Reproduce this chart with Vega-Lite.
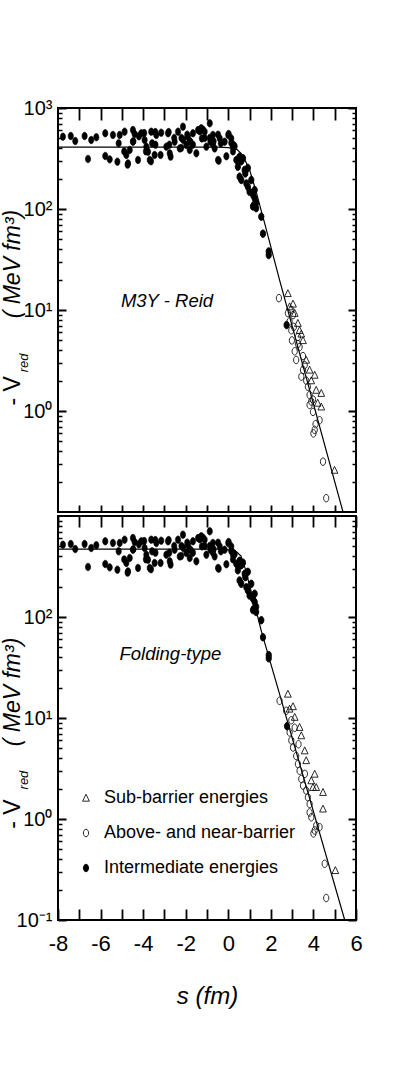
{
  "$schema": "https://vega.github.io/schema/vega-lite/v6.json",
  "background": "white",
  "padding": {"left": 0, "top": 97, "right": 5, "bottom": 5},
  "config": {
    "view": {"stroke": "black", "strokeWidth": 2},
    "axis": {"labelColor": "black", "domain": false, "ticks": false, "tickSize": 0, "gridColor": "black", "gridOpacity": 1}
  },
  "datasets": {
    "top_line": [{"s":-8,"v":410},{"s":-0.5,"v":410},{"s":0,"v":405},{"s":0.4,"v":390},{"s":0.6,"v":355},{"s":0.8,"v":300},{"s":1.0,"v":245},{"s":1.3,"v":150},{"s":1.71,"v":72},{"s":2.41,"v":19.8},{"s":5.39,"v":0.1}],
    "bot_line": [{"s":-8,"v":470},{"s":-0.5,"v":470},{"s":0,"v":462},{"s":0.4,"v":440},{"s":0.6,"v":400},{"s":0.8,"v":300},{"s":1.0,"v":205},{"s":1.3,"v":118},{"s":1.55,"v":73},{"s":2.4,"v":17.5},{"s":5.47,"v":0.1}],
    "plateau": [{"s":-7.77,"v":520},{"s":-7.4,"v":528},{"s":-7.19,"v":471},{"s":-6.75,"v":528},{"s":-6.59,"v":313},{"s":-6.44,"v":482},{"s":-6.2,"v":513},{"s":-5.78,"v":562},{"s":-5.78,"v":335},{"s":-5.57,"v":310},{"s":-5.42,"v":541},{"s":-5.21,"v":294},{"s":-5.15,"v":447},{"s":-5.1,"v":541},{"s":-4.87,"v":583},{"s":-4.89,"v":372},{"s":-4.79,"v":343},{"s":-4.71,"v":283},{"s":-4.73,"v":275},{"s":-4.63,"v":384},{"s":-4.48,"v":605},{"s":-4.48,"v":464},{"s":-4.46,"v":468},{"s":-4.4,"v":553},{"s":-4.24,"v":306},{"s":-4.2,"v":525},{"s":-4.09,"v":562},{"s":-3.95,"v":565},{"s":-3.93,"v":482},{"s":-3.87,"v":372},{"s":-3.85,"v":414},{"s":-3.77,"v":369},{"s":-3.69,"v":306},{"s":-3.63,"v":297},{"s":-3.62,"v":583},{"s":-3.58,"v":447},{"s":-3.46,"v":343},{"s":-3.43,"v":578},{"s":-3.42,"v":433},{"s":-3.38,"v":541},{"s":-3.18,"v":343},{"s":-3.15,"v":570},{"s":-2.91,"v":414},{"s":-2.83,"v":562},{"s":-2.8,"v":578},{"s":-2.77,"v":433},{"s":-2.75,"v":356},{"s":-2.71,"v":330},{"s":-2.54,"v":505},{"s":-2.52,"v":464},{"s":-2.36,"v":583},{"s":-2.28,"v":398},{"s":-2.21,"v":402},{"s":-2.2,"v":505},{"s":-2.13,"v":653},{"s":-2.11,"v":482},{"s":-1.97,"v":431},{"s":-1.93,"v":545},{"s":-1.89,"v":520},{"s":-1.81,"v":384},{"s":-1.81,"v":468},{"s":-1.78,"v":464},{"s":-1.66,"v":562},{"s":-1.66,"v":433},{"s":-1.5,"v":356},{"s":-1.42,"v":605},{"s":-1.34,"v":588},{"s":-1.27,"v":630},{"s":-1.24,"v":500},{"s":-1.19,"v":610},{"s":-1.11,"v":583},{"s":-1.11,"v":505},{"s":-1.03,"v":414},{"s":-0.87,"v":705},{"s":-0.87,"v":505},{"s":-0.84,"v":464},{"s":-0.72,"v":541},{"s":-0.72,"v":433},{"s":-0.69,"v":468},{"s":-0.64,"v":398},{"s":-0.48,"v":306},{"s":-0.48,"v":545},{"s":-0.45,"v":301},{"s":-0.4,"v":500},{"s":-0.35,"v":447},{"s":-0.17,"v":464},{"s":-0.09,"v":333},{"s":0.0,"v":541},{"s":0.02,"v":553},{"s":0.14,"v":500},{"s":0.14,"v":450},{"s":0.22,"v":414},{"s":0.22,"v":372},{"s":0.25,"v":431},{"s":0.3,"v":417}],
    "top_rest": [
      {"s":0.38,"v":306,"t":"I"},{"s":0.45,"v":262,"t":"I"},{"s":0.53,"v":330,"t":"I"},{"s":0.53,"v":209,"t":"I"},{"s":0.61,"v":194,"t":"I"},{"s":0.61,"v":297,"t":"I"},{"s":0.69,"v":318,"t":"I"},{"s":0.77,"v":243,"t":"I"},{"s":0.8,"v":225,"t":"I"},{"s":0.85,"v":179,"t":"I"},{"s":0.92,"v":166,"t":"I"},{"s":0.92,"v":255,"t":"I"},{"s":1.0,"v":148,"t":"I"},{"s":1.08,"v":194,"t":"I"},{"s":1.16,"v":138,"t":"I"},{"s":1.16,"v":106,"t":"I"},{"s":1.21,"v":110,"t":"I"},{"s":1.24,"v":128,"t":"I"},{"s":1.24,"v":154,"t":"I"},{"s":1.31,"v":102,"t":"I"},{"s":1.31,"v":115,"t":"I"},{"s":1.55,"v":84,"t":"I"},{"s":1.63,"v":57,"t":"I"},{"s":1.9,"v":38,"t":"I"},{"s":1.9,"v":35,"t":"I"},{"s":2.74,"v":7.1,"t":"I"},
      {"s":2.38,"v":13.1,"t":"A"},{"s":2.8,"v":9.3,"t":"A"},{"s":2.96,"v":10.0,"t":"A"},{"s":2.88,"v":7.7,"t":"A"},{"s":3.04,"v":8.9,"t":"A"},{"s":2.96,"v":6.3,"t":"A"},{"s":3.08,"v":6.8,"t":"A"},{"s":2.99,"v":5.0,"t":"A"},{"s":3.27,"v":5.4,"t":"A"},{"s":3.35,"v":4.3,"t":"A"},{"s":3.12,"v":3.9,"t":"A"},{"s":3.27,"v":4.6,"t":"A"},{"s":3.19,"v":3.2,"t":"A"},{"s":3.59,"v":2.85,"t":"A"},{"s":3.51,"v":2.55,"t":"A"},{"s":3.51,"v":3.5,"t":"A"},{"s":3.43,"v":2.19,"t":"A"},{"s":3.66,"v":2.0,"t":"A"},{"s":3.74,"v":1.74,"t":"A"},{"s":3.82,"v":1.44,"t":"A"},{"s":3.9,"v":1.24,"t":"A"},{"s":3.82,"v":1.15,"t":"A"},{"s":3.98,"v":1.3,"t":"A"},{"s":3.98,"v":0.98,"t":"A"},{"s":4.1,"v":0.74,"t":"A"},{"s":4.06,"v":0.65,"t":"A"},{"s":4.0,"v":0.6,"t":"A"},{"s":4.29,"v":0.81,"t":"A"},{"s":4.45,"v":0.315,"t":"A"},{"s":4.6,"v":0.137,"t":"A"},
      {"s":2.8,"v":14.6,"t":"S"},{"s":2.88,"v":10.8,"t":"S"},{"s":3.04,"v":11.5,"t":"S"},{"s":3.12,"v":9.3,"t":"S"},{"s":3.27,"v":7.4,"t":"S"},{"s":3.35,"v":6.3,"t":"S"},{"s":3.43,"v":5.8,"t":"S"},{"s":3.51,"v":5.0,"t":"S"},{"s":3.66,"v":3.2,"t":"S"},{"s":3.82,"v":2.55,"t":"S"},{"s":3.9,"v":2.0,"t":"S"},{"s":4.06,"v":2.27,"t":"S"},{"s":4.13,"v":1.61,"t":"S"},{"s":4.37,"v":1.5,"t":"S"},{"s":4.37,"v":1.1,"t":"S"},{"s":4.2,"v":1.2,"t":"S"},{"s":4.99,"v":0.26,"t":"S"}],
    "bot_rest": [
      {"s":0.38,"v":335,"t":"I"},{"s":0.45,"v":290,"t":"I"},{"s":0.53,"v":360,"t":"I"},{"s":0.53,"v":230,"t":"I"},{"s":0.61,"v":213,"t":"I"},{"s":0.61,"v":326,"t":"I"},{"s":0.69,"v":345,"t":"I"},{"s":0.77,"v":268,"t":"I"},{"s":0.8,"v":248,"t":"I"},{"s":0.85,"v":197,"t":"I"},{"s":0.92,"v":183,"t":"I"},{"s":0.92,"v":280,"t":"I"},{"s":1.0,"v":163,"t":"I"},{"s":1.08,"v":213,"t":"I"},{"s":1.16,"v":152,"t":"I"},{"s":1.16,"v":117,"t":"I"},{"s":1.21,"v":121,"t":"I"},{"s":1.24,"v":141,"t":"I"},{"s":1.24,"v":170,"t":"I"},{"s":1.31,"v":112,"t":"I"},{"s":1.31,"v":126,"t":"I"},{"s":1.55,"v":93,"t":"I"},{"s":1.63,"v":63,"t":"I"},{"s":1.9,"v":42,"t":"I"},{"s":1.9,"v":39,"t":"I"},{"s":2.76,"v":8.3,"t":"I"},
      {"s":2.41,"v":14.8,"t":"A"},{"s":2.72,"v":11.8,"t":"A"},{"s":2.96,"v":9.5,"t":"A"},{"s":3.12,"v":8.0,"t":"A"},{"s":2.88,"v":7.2,"t":"A"},{"s":2.96,"v":6.0,"t":"A"},{"s":3.04,"v":5.1,"t":"A"},{"s":3.3,"v":5.5,"t":"A"},{"s":3.19,"v":4.2,"t":"A"},{"s":3.27,"v":3.5,"t":"A"},{"s":3.35,"v":3.0,"t":"A"},{"s":3.6,"v":2.8,"t":"A"},{"s":3.43,"v":2.49,"t":"A"},{"s":3.51,"v":2.14,"t":"A"},{"s":3.66,"v":1.91,"t":"A"},{"s":3.74,"v":1.64,"t":"A"},{"s":3.82,"v":1.41,"t":"A"},{"s":3.82,"v":1.16,"t":"A"},{"s":3.9,"v":1.04,"t":"A"},{"s":4.06,"v":0.77,"t":"A"},{"s":4.0,"v":0.72,"t":"A"},{"s":4.13,"v":0.86,"t":"A"},{"s":4.29,"v":0.83,"t":"A"},{"s":4.53,"v":0.36,"t":"A"},{"s":4.6,"v":0.165,"t":"A"},
      {"s":2.8,"v":17.3,"t":"S"},{"s":2.88,"v":12.3,"t":"S"},{"s":3.04,"v":13.0,"t":"S"},{"s":3.12,"v":10.2,"t":"S"},{"s":3.35,"v":8.1,"t":"S"},{"s":3.43,"v":6.7,"t":"S"},{"s":3.59,"v":4.75,"t":"S"},{"s":3.66,"v":3.8,"t":"S"},{"s":3.9,"v":2.4,"t":"S"},{"s":4.06,"v":2.79,"t":"S"},{"s":3.98,"v":2.06,"t":"S"},{"s":4.13,"v":2.06,"t":"S"},{"s":4.45,"v":1.84,"t":"S"},{"s":4.45,"v":1.26,"t":"S"},{"s":5.03,"v":0.31,"t":"S"}]
  },
  "vconcat": [
    {
      "width": 298, "height": 404,
      "layer": [
        {"data": {"name": "top_line"}, "mark": {"type": "line", "color": "black", "strokeWidth": 1.2},
         "encoding": {
           "x": {"field": "s", "type": "quantitative", "scale": {"domain": [-8, 6], "nice": false, "zero": false},
                 "axis": {"orient": "bottom", "values": [-7,-6,-5,-4,-3,-2,-1,0,1,2,3,4,5], "labels": false, "title": null,
                          "grid": true, "gridWidth": 1.8, "gridDash": [12, 385, 7, 100], "minExtent": 0, "maxExtent": 0}},
           "y": {"field": "v", "type": "quantitative", "scale": {"type": "log", "domain": [0.1, 1000], "nice": false},
                 "axis": {"orient": "left", "values": [1,10,100,1000], "title": null, "grid": true, "gridWidth": 1.8, "gridDash": [8, 282, 8, 100],
                          "labelExpr": "datum.value >= 999 ? '10³' : datum.value >= 99 ? '10²' : datum.value >= 9 ? '10¹' : '10⁰'",
                          "labelFont": "Liberation Sans Narrow, Liberation Sans, Arial, sans-serif", "labelFontSize": 20, "labelPadding": 6, "labelOverlap": false}}
         }},
        {"data": {"name": "plateau"}, "mark": {"type": "point", "shape": "M0,-1A0.7,1,0,1,1,0,1A0.7,1,0,1,1,0,-1Z", "filled": true, "fill": "black", "stroke": "black", "strokeWidth": 0.6, "size": 56, "opacity": 1},
         "encoding": {
           "x": {"field": "s", "type": "quantitative", "scale": {"domain": [-8, 6], "nice": false, "zero": false}, "axis": null},
           "y": {"field": "v", "type": "quantitative", "scale": {"type": "log", "domain": [0.1, 1000], "nice": false}, "axis": null}
         }},
        {"data": {"name": "top_rest"}, "mark": {"type": "point", "filled": true, "strokeWidth": 0.9, "size": 56, "opacity": 1},
         "encoding": {
           "x": {"field": "s", "type": "quantitative", "scale": {"domain": [-8, 6], "nice": false, "zero": false}, "axis": null},
           "y": {"field": "v", "type": "quantitative", "scale": {"type": "log", "domain": [0.1, 1000], "nice": false},
                 "axis": {"orient": "left", "values": [0.2,0.3,0.4,0.5,0.6,0.7,0.8,0.9,2,3,4,5,6,7,8,9,20,30,40,50,60,70,80,90,200,300,400,500,600,700,800,900], "labels": false, "title": null,
                          "grid": true, "gridWidth": 1.4, "gridDash": [4, 290, 4, 100], "minExtent": 0, "maxExtent": 0}},
           "shape": {"field": "t", "type": "nominal", "scale": {"domain": ["S","A","I"], "range": ["M0,-1L0.9,0.85L-0.9,0.85Z", "M0,-1A0.7,1,0,1,1,0,1A0.7,1,0,1,1,0,-1Z", "M0,-1A0.7,1,0,1,1,0,1A0.7,1,0,1,1,0,-1Z"]}, "legend": null},
           "fill": {"field": "t", "type": "nominal", "scale": {"domain": ["S","A","I"], "range": ["transparent", "transparent", "black"]}, "legend": null},
           "stroke": {"field": "t", "type": "nominal", "scale": {"domain": ["S","A","I"], "range": ["#111", "#111", "black"]}, "legend": null}
         }},
        {"data": {"values": [{}]}, "mark": {"type": "text", "text": "M3Y - Reid", "font": "Liberation Sans Narrow, Liberation Sans, Arial, sans-serif", "fontSize": 18.5, "fontStyle": "italic", "align": "center", "baseline": "middle", "color": "black"},
         "encoding": {
           "x": {"datum": -2.88, "type": "quantitative", "scale": {"domain": [-8, 6], "nice": false, "zero": false}, "axis": null},
           "y": {"datum": 12.3, "type": "quantitative", "scale": {"type": "log", "domain": [0.1, 1000], "nice": false}, "axis": null}
         }},
        {"data": {"values": [{}]}, "mark": {"type": "text", "text": "- V", "font": "Liberation Sans, Arial, sans-serif", "fontSize": 23, "angle": 270, "align": "center", "baseline": "middle", "color": "black"},
         "encoding": {
           "x": {"datum": -10.13, "type": "quantitative", "scale": {"domain": [-8, 6], "nice": false, "zero": false}, "axis": null},
           "y": {"datum": 1.58, "type": "quantitative", "scale": {"type": "log", "domain": [0.1, 1000], "nice": false}, "axis": null}
         }},
        {"data": {"values": [{}]}, "mark": {"type": "text", "text": "red", "font": "Liberation Sans, Arial, sans-serif", "fontSize": 13, "fontStyle": "italic", "angle": 270, "align": "center", "baseline": "middle", "color": "black"},
         "encoding": {
           "x": {"datum": -9.62, "type": "quantitative", "scale": {"domain": [-8, 6], "nice": false, "zero": false}, "axis": null},
           "y": {"datum": 2.99, "type": "quantitative", "scale": {"type": "log", "domain": [0.1, 1000], "nice": false}, "axis": null}
         }},
        {"data": {"values": [{}]}, "mark": {"type": "text", "text": "( MeV  fm³)", "font": "Liberation Sans, Arial, sans-serif", "fontSize": 23, "fontStyle": "italic", "angle": 270, "align": "center", "baseline": "middle", "color": "black"},
         "encoding": {
           "x": {"datum": -10.13, "type": "quantitative", "scale": {"domain": [-8, 6], "nice": false, "zero": false}, "axis": null},
           "y": {"datum": 28.5, "type": "quantitative", "scale": {"type": "log", "domain": [0.1, 1000], "nice": false}, "axis": null}
         }}
      ],
      "resolve": {"axis": {"x": "independent", "y": "independent"}}
    },
    {
      "width": 298, "height": 404,
      "layer": [
        {"data": {"name": "bot_line"}, "mark": {"type": "line", "color": "black", "strokeWidth": 1.2},
         "encoding": {
           "x": {"field": "s", "type": "quantitative", "scale": {"domain": [-8, 6], "nice": false, "zero": false},
                 "axis": {"orient": "bottom", "values": [-8,-7,-6,-5,-4,-3,-2,-1,0,1,2,3,4,5,6], "grid": true, "gridWidth": 1.8, "gridDash": [11, 382, 11, 100],
                          "labelExpr": "datum.value % 2 == 0 ? '' + datum.value : ''", "labelFlush": false, "labelOverlap": false,
                          "labelFont": "Liberation Sans Narrow, Liberation Sans, Arial, sans-serif", "labelFontSize": 22, "labelPadding": 13,
                          "title": "s (fm)", "titleFont": "Liberation Sans Narrow, Liberation Sans, Arial, sans-serif", "titleFontSize": 24, "titleFontStyle": "italic", "titleFontWeight": "normal", "titleColor": "black", "titlePadding": 30}},
           "y": {"field": "v", "type": "quantitative", "scale": {"type": "log", "domain": [0.1, 1000], "nice": false},
                 "axis": {"orient": "left", "values": [0.1,1,10,100], "title": null, "grid": true, "gridWidth": 1.8, "gridDash": [8, 282, 8, 100],
                          "labelExpr": "datum.value >= 99 ? '10²' : datum.value >= 9 ? '10¹' : datum.value >= 0.9 ? '10⁰' : '10⁻¹'",
                          "labelFont": "Liberation Sans Narrow, Liberation Sans, Arial, sans-serif", "labelFontSize": 20, "labelPadding": 6, "labelOverlap": false}}
         }},
        {"data": {"name": "plateau"}, "mark": {"type": "point", "shape": "M0,-1A0.7,1,0,1,1,0,1A0.7,1,0,1,1,0,-1Z", "filled": true, "fill": "black", "stroke": "black", "strokeWidth": 0.6, "size": 56, "opacity": 1},
         "encoding": {
           "x": {"field": "s", "type": "quantitative", "scale": {"domain": [-8, 6], "nice": false, "zero": false}, "axis": null},
           "y": {"field": "v", "type": "quantitative", "scale": {"type": "log", "domain": [0.1, 1000], "nice": false}, "axis": null}
         }},
        {"data": {"name": "bot_rest"}, "mark": {"type": "point", "filled": true, "strokeWidth": 0.9, "size": 56, "opacity": 1},
         "encoding": {
           "x": {"field": "s", "type": "quantitative", "scale": {"domain": [-8, 6], "nice": false, "zero": false}, "axis": null},
           "y": {"field": "v", "type": "quantitative", "scale": {"type": "log", "domain": [0.1, 1000], "nice": false},
                 "axis": {"orient": "left", "values": [0.2,0.3,0.4,0.5,0.6,0.7,0.8,0.9,2,3,4,5,6,7,8,9,20,30,40,50,60,70,80,90,200,300,400,500,600,700,800,900], "labels": false, "title": null,
                          "grid": true, "gridWidth": 1.4, "gridDash": [4, 290, 4, 100], "minExtent": 0, "maxExtent": 0}},
           "shape": {"field": "t", "type": "nominal", "scale": {"domain": ["S","A","I"], "range": ["M0,-1L0.9,0.85L-0.9,0.85Z", "M0,-1A0.7,1,0,1,1,0,1A0.7,1,0,1,1,0,-1Z", "M0,-1A0.7,1,0,1,1,0,1A0.7,1,0,1,1,0,-1Z"]},
                     "legend": {"orient": "none", "legendX": 19, "legendY": 273, "title": null, "padding": 0, "rowPadding": 17, "labelOffset": 9, "symbolSize": 56, "symbolStrokeWidth": 0.9,
                                "labelFont": "Liberation Sans Narrow, Liberation Sans, Arial, sans-serif", "labelFontSize": 18, "labelColor": "black", "labelLimit": 300,
                                "labelExpr": "datum.label == 'S' ? 'Sub-barrier energies' : datum.label == 'A' ? 'Above- and near-barrier' : 'Intermediate energies'"}},
           "fill": {"field": "t", "type": "nominal", "scale": {"domain": ["S","A","I"], "range": ["transparent", "transparent", "black"]},
                    "legend": {"orient": "none", "legendX": 19, "legendY": 273, "title": null, "padding": 0, "rowPadding": 17, "labelOffset": 9, "symbolSize": 56, "symbolStrokeWidth": 0.9,
                               "labelFont": "Liberation Sans Narrow, Liberation Sans, Arial, sans-serif", "labelFontSize": 18, "labelColor": "black", "labelLimit": 300,
                               "labelExpr": "datum.label == 'S' ? 'Sub-barrier energies' : datum.label == 'A' ? 'Above- and near-barrier' : 'Intermediate energies'"}},
           "stroke": {"field": "t", "type": "nominal", "scale": {"domain": ["S","A","I"], "range": ["#111", "#111", "black"]},
                      "legend": {"orient": "none", "legendX": 19, "legendY": 273, "title": null, "padding": 0, "rowPadding": 17, "labelOffset": 9, "symbolSize": 56, "symbolStrokeWidth": 0.9,
                                 "labelFont": "Liberation Sans Narrow, Liberation Sans, Arial, sans-serif", "labelFontSize": 18, "labelColor": "black", "labelLimit": 300,
                                 "labelExpr": "datum.label == 'S' ? 'Sub-barrier energies' : datum.label == 'A' ? 'Above- and near-barrier' : 'Intermediate energies'"}}
         }},
        {"data": {"values": [{}]}, "mark": {"type": "text", "text": "Folding-type", "font": "Liberation Sans Narrow, Liberation Sans, Arial, sans-serif", "fontSize": 18.5, "fontStyle": "italic", "align": "center", "baseline": "middle", "color": "black"},
         "encoding": {
           "x": {"datum": -2.72, "type": "quantitative", "scale": {"domain": [-8, 6], "nice": false, "zero": false}, "axis": null},
           "y": {"datum": 43, "type": "quantitative", "scale": {"type": "log", "domain": [0.1, 1000], "nice": false}, "axis": null}
         }},
        {"data": {"values": [{}]}, "mark": {"type": "text", "text": "- V", "font": "Liberation Sans, Arial, sans-serif", "fontSize": 23, "angle": 270, "align": "center", "baseline": "middle", "color": "black"},
         "encoding": {
           "x": {"datum": -10.13, "type": "quantitative", "scale": {"domain": [-8, 6], "nice": false, "zero": false}, "axis": null},
           "y": {"datum": 1.12, "type": "quantitative", "scale": {"type": "log", "domain": [0.1, 1000], "nice": false}, "axis": null}
         }},
        {"data": {"values": [{}]}, "mark": {"type": "text", "text": "red", "font": "Liberation Sans, Arial, sans-serif", "fontSize": 13, "fontStyle": "italic", "angle": 270, "align": "center", "baseline": "middle", "color": "black"},
         "encoding": {
           "x": {"datum": -9.62, "type": "quantitative", "scale": {"domain": [-8, 6], "nice": false, "zero": false}, "axis": null},
           "y": {"datum": 2.43, "type": "quantitative", "scale": {"type": "log", "domain": [0.1, 1000], "nice": false}, "axis": null}
         }},
        {"data": {"values": [{}]}, "mark": {"type": "text", "text": "( MeV  fm³)", "font": "Liberation Sans, Arial, sans-serif", "fontSize": 23, "fontStyle": "italic", "angle": 270, "align": "center", "baseline": "middle", "color": "black"},
         "encoding": {
           "x": {"datum": -10.13, "type": "quantitative", "scale": {"domain": [-8, 6], "nice": false, "zero": false}, "axis": null},
           "y": {"datum": 18.1, "type": "quantitative", "scale": {"type": "log", "domain": [0.1, 1000], "nice": false}, "axis": null}
         }}
      ],
      "resolve": {"axis": {"x": "independent", "y": "independent"}}
    }
  ],
  "spacing": -2,
  "resolve": {"scale": {"shape": "independent", "fill": "independent", "stroke": "independent"}, "legend": {"shape": "independent", "fill": "independent", "stroke": "independent"}}
}
